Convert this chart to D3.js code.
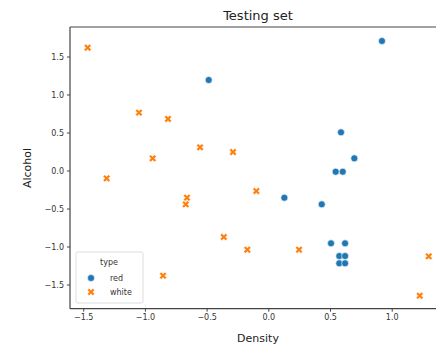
<!DOCTYPE html>
<html>
<head>
<meta charset="utf-8">
<script src="https://cdn.jsdelivr.net/npm/d3@7"></script>
<style>
  body { margin: 0; background: #fff; }
  svg { font-family: "DejaVu Sans", sans-serif; display: block; }
</style>
</head>
<body>
<svg id="chart" width="436" height="349"></svg>
<script>
// testing set, standardised values
const redDensity = [-0.483, 0.921, 0.589, 0.697, 0.546, 0.603, 0.13, 0.433, 0.508, 0.622, 0.575, 0.622, 0.575, 0.622];
const redAlcohol = [1.191, 1.704, 0.502, 0.16, -0.016, -0.016, -0.358, -0.445, -0.958, -0.958, -1.125, -1.125, -1.221, -1.221];
const whiteDensity = [-1.464, -1.048, -0.813, -0.937, -0.553, -0.286, -1.31, -0.659, -0.669, -0.097, -0.361, -0.17, 0.249, 1.30, 1.227, -0.853];
const whiteAlcohol = [1.616, 0.761, 0.678, 0.16, 0.305, 0.243, -0.103, -0.358, -0.445, -0.27, -0.875, -1.042, -1.042, -1.129, -1.647, -1.384];
const types = ['red', 'white'];
const xTicks = [-1.5, -1.0, -0.5, 0.0, 0.5, 1.0];
const yTicks = [-1.5, -1.0, -0.5, 0.0, 0.5, 1.0, 1.5];

const colors = { red: '#1f77b4', white: '#ff7f0e' };

const svg = d3.select('#chart');
const x = d3.scaleLinear().domain([-1.607, 1.448]).range([70, 447]);
const y = d3.scaleLinear().domain([-1.818, 1.888]).range([308.7, 27]);
const fmt = v => d3.format('.1f')(v).replace('-', '\u2212');

let points = [];
redDensity.forEach((d, i) => points.push({ type: 'red', density: d, alcohol: redAlcohol[i] }));
whiteDensity.forEach((d, i) => points.push({ type: 'white', density: d, alcohol: whiteAlcohol[i] }));

// matplotlib's filled 'X' marker
function xPath(s) {
    let p = [[-0.25, -0.5], [0, -0.25], [0.25, -0.5], [0.5, -0.25], [0.25, 0], [0.5, 0.25],
             [0.25, 0.5], [0, 0.25], [-0.25, 0.5], [-0.5, 0.25], [-0.25, 0], [-0.5, -0.25]];
    return 'M' + p.map(q => (q[0] * s) + ',' + (q[1] * s)).join('L') + 'Z';
}
function marker(sel, type) {
    if (type === 'red') {
        sel.append('circle').attr('r', 3.5);
    } else {
        sel.append('path').attr('d', xPath(7.4));
    }
}

// spines
const spine = '#444';
svg.append('line').attr('x1', 70).attr('x2', 70).attr('y1', 27).attr('y2', 308.7)
    .attr('stroke', spine).attr('stroke-width', 1.2);
svg.append('line').attr('x1', 70).attr('x2', 447).attr('y1', 308.7).attr('y2', 308.7)
    .attr('stroke', spine).attr('stroke-width', 1.2);
svg.append('line').attr('x1', 70).attr('x2', 447).attr('y1', 27).attr('y2', 27)
    .attr('stroke', spine).attr('stroke-width', 1.2);

let xAxis = svg.append('g')
    .attr('transform', 'translate(0,308.7)')
    .call(d3.axisBottom(x).tickValues(xTicks).tickFormat(fmt).tickSize(3).tickPadding(3));
let yAxis = svg.append('g')
    .attr('transform', 'translate(70,0)')
    .call(d3.axisLeft(y).tickValues(yTicks).tickFormat(fmt).tickSize(3).tickPadding(3));
[xAxis, yAxis].forEach(a => {
    a.select('.domain').remove();
    a.selectAll('.tick line').attr('stroke', '#444');
    a.selectAll('.tick text').attr('fill', '#333').style('font-size', '8px')
        .style('font-family', '"DejaVu Sans", sans-serif');
});

let gs = svg.append('g').selectAll('.pt')
    .data(points)
    .enter()
    .append('g')
    .attr('transform', d => `translate(${x(d.density)},${y(d.alcohol)})`)
    .attr('fill', d => colors[d.type])
    .attr('stroke', '#fff')
    .attr('stroke-width', 0.6);
gs.each(function (d) { marker(d3.select(this), d.type); });

svg.append('text').attr('x', 258).attr('y', 20).attr('text-anchor', 'middle')
    .style('font-size', '13px').attr('fill', '#222').text('Testing set');
svg.append('text').attr('x', 258).attr('y', 342).attr('text-anchor', 'middle')
    .style('font-size', '11px').attr('fill', '#222').text('Density');
svg.append('text').attr('transform', 'translate(31,168) rotate(-90)').attr('text-anchor', 'middle')
    .style('font-size', '11px').attr('fill', '#222').text('Alcohol');

// legend
let legend = svg.append('g').attr('transform', 'translate(76,252)');
legend.append('rect').attr('width', 67).attr('height', 51).attr('rx', 2)
    .attr('fill', '#fff').attr('fill-opacity', 0.8).attr('stroke', '#ddd');
legend.append('text').attr('x', 33).attr('y', 13).attr('text-anchor', 'middle')
    .style('font-size', '8px').attr('fill', '#333').text('type');
let items = legend.selectAll('.legend-item')
    .data(types)
    .enter()
    .append('g')
    .attr('transform', (d, i) => `translate(0,${26 + i * 14})`);
items.append('g')
    .attr('transform', 'translate(15,0)')
    .attr('fill', d => colors[d])
    .attr('stroke', '#fff')
    .attr('stroke-width', 0.6)
    .each(function (d) { marker(d3.select(this), d); });
items.append('text').attr('x', 34).attr('y', 3)
    .style('font-size', '8px').attr('fill', '#333').text(d => d);
</script>
</body>
</html>
